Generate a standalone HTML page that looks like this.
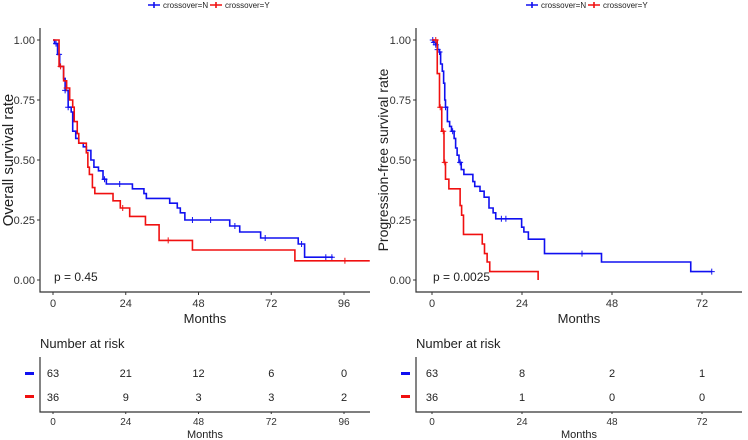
<!DOCTYPE html>
<html><head><meta charset="utf-8"><style>
body{margin:0;background:#fff;}
svg{display:block;font-family:"Liberation Sans",sans-serif;}
</style></head><body>
<svg id="c" width="748" height="440" viewBox="0 0 748 440"></svg>
<script>
// Left: overall survival
const osN_t=[0,0.5,1.5,2.2,3.5,4,5,6,6.5,7.5,8.5,10,11,12.5,13.5,15,16.5,17.6,26.2,30,30.8,38.5,41,42,43.5,58.3,61.6,68.5,80.9,83,92.4];
const osN_s=[1,0.985,0.94,0.89,0.84,0.79,0.72,0.70,0.62,0.59,0.57,0.555,0.54,0.50,0.47,0.455,0.42,0.40,0.38,0.36,0.34,0.32,0.30,0.28,0.25,0.225,0.20,0.175,0.15,0.095,0.095];
const osN_cens=[1,2,4,5,17,22,46,52,60,70,82,90,92];
const osY_t=[0,2,3.5,4.5,5.5,6.5,7,8,8.5,11,11.5,12,13,13.8,19.8,22.2,25.3,30.5,35,46,79.8,104.5];
const osY_s=[1,0.89,0.83,0.80,0.75,0.72,0.66,0.61,0.57,0.53,0.47,0.44,0.385,0.36,0.33,0.30,0.265,0.23,0.165,0.125,0.08,0.08];
const osY_cens=[2.5,4.5,23,38,96.3];
const osTicks=[0,24,48,72,96];
const osRiskN=[63,21,12,6,0];
const osRiskY=[36,9,3,3,2];
// Right: progression-free survival
const pfN_t=[0,0.5,1,1.5,2,2.3,2.75,3.1,3.4,3.6,4.1,4.7,5.2,5.9,6.3,6.7,7.2,7.8,8.5,10.9,11.4,12.8,13.9,15.2,16.3,17,23.9,24.5,25.7,30,45.2,69,74.6];
const pfN_s=[1,0.99,0.98,0.96,0.95,0.90,0.87,0.82,0.75,0.72,0.66,0.64,0.62,0.59,0.55,0.52,0.49,0.46,0.44,0.41,0.39,0.37,0.345,0.30,0.28,0.255,0.22,0.20,0.17,0.11,0.075,0.035,0.035];
const pfN_cens=[0.2,0.5,1,1.5,2,3.6,5.5,7.5,18.5,19.7,40,74.6];
const pfY_t=[0,1.4,2,2.6,3.2,3.6,4.5,7.5,7.9,8.4,13.4,14,14.7,15.4,28.3];
const pfY_s=[1,0.86,0.72,0.62,0.49,0.42,0.38,0.31,0.27,0.19,0.15,0.11,0.075,0.035,0];
const pfY_cens=[1,2.2,3,3.4];
const pfTicks=[0,24,48,72];
const pfRiskN=[63,8,2,1];
const pfRiskY=[36,1,0,0];

const NS="http://www.w3.org/2000/svg";
const svg=document.getElementById('c');
function mk(tag,attrs,parent,txt){const e=document.createElementNS(NS,tag);for(const k in attrs)e.setAttribute(k,attrs[k]);if(txt!==undefined)e.textContent=txt;(parent||svg).appendChild(e);return e;}
const BLUE="#1010f0",RED="#f01010";

function panel(o){
  const g=mk('g',{});
  
  
  const X=t=>o.x0+t*o.pxPerMonth, Y=s=>40+(1-s)*240;
  const ax=mk('path',{d:`M${o.axX} 28V292H${o.axEnd}`,stroke:'#333',fill:'none','stroke-width':1.2},g);
  
  [0,0.25,0.5,0.75,1].forEach(v=>{
    mk('line',{x1:o.axX-3,x2:o.axX,y1:Y(v),y2:Y(v),stroke:'#333'},g);
    const t=mk('text',{x:o.axX-5,y:Y(v)+4,'text-anchor':'end','font-size':11,fill:'#333'},g,v.toFixed(2));
    
  });
  o.ticks.forEach(v=>{
    mk('line',{x1:X(v),x2:X(v),y1:292,y2:295,stroke:'#333'},g);
    const t=mk('text',{x:X(v),y:307,'text-anchor':'middle','font-size':11,fill:'#333'},g,v);
    
  });
  const xt=mk('text',{x:(o.axX+o.axEnd)/2,y:323,'text-anchor':'middle','font-size':13,fill:'#222'},g,'Months');
  
  const yt=mk('text',{x:0,y:0,transform:`translate(${o.ytX},160) rotate(-90)`,'text-anchor':'middle','font-size':o.ytSize,fill:'#222'},g,o.ytitle);
  
  const p=mk('text',{x:X(0)+1,y:281,'font-size':12,fill:'#222'},g,o.p);
  
  function curve(ts,ss,cens,col,nm){
    let d=`M${X(ts[0])} ${Y(ss[0])}`;
    for(let i=1;i<ts.length;i++){d+=`H${X(ts[i])}V${Y(ss[i])}`;}
    const pth=mk('path',{d:d,stroke:col,fill:'none','stroke-width':1.6},g);
    
    cens.forEach(c=>{
      let s=ss[0];for(let i=0;i<ts.length;i++){if(ts[i]<=c)s=ss[i];}
      const m=mk('path',{d:`M${X(c)-3} ${Y(s)}h6M${X(c)} ${Y(s)-3}v6`,stroke:col,'stroke-width':1},g);
      
    });
  }
  curve(o.nT,o.nS,o.nC,BLUE,'curve-crossover-n');
  curve(o.yT,o.yS,o.yC,RED,'curve-crossover-y');
  const lg=mk('g',{},g);
  [[o.lx,BLUE,'crossover=N'],[o.lx+62,RED,'crossover=Y']].forEach(([lx,col,lab])=>{
    mk('path',{d:`M${lx} 5h12M${lx+6} 2v6`,stroke:col,'stroke-width':1.6},lg);
    const t=mk('text',{x:lx+15,y:8,'font-size':8,fill:'#222'},lg,lab);
    
  });
  const rt=mk('g',{},g);
  mk('text',{x:o.axX,y:348,'font-size':13,fill:'#222'},rt,'Number at risk');
  mk('path',{d:`M${o.axX} 357V412H${o.axEnd}`,stroke:'#333',fill:'none','stroke-width':1.2},rt);
  mk('rect',{x:o.axX-15,y:372,width:9,height:3,fill:BLUE},rt);
  mk('rect',{x:o.axX-15,y:395,width:9,height:3,fill:RED},rt);
  o.ticks.forEach((v,i)=>{
    mk('text',{x:X(v),y:377,'text-anchor':'middle','font-size':11,fill:'#222'},rt,o.rN[i]);
    mk('text',{x:X(v),y:401,'text-anchor':'middle','font-size':11,fill:'#222'},rt,o.rY[i]);
    mk('line',{x1:X(v),x2:X(v),y1:412,y2:414,stroke:'#333'},rt);
    mk('text',{x:X(v),y:425,'text-anchor':'middle','font-size':10,fill:'#333'},rt,v);
  });
  mk('text',{x:(o.axX+o.axEnd)/2,y:438,'text-anchor':'middle','font-size':11,fill:'#222'},rt,'Months');
}
panel({name:'os-panel',axX:40,axEnd:370,x0:53,pxPerMonth:291/96,ticks:osTicks,ytitle:'Overall survival rate',ytSize:15,ytX:13,p:'p = 0.45',
  nT:osN_t,nS:osN_s,nC:osN_cens,yT:osY_t,yS:osY_s,yC:osY_cens,lx:148,rN:osRiskN,rY:osRiskY});
panel({name:'pfs-panel',axX:416,axEnd:742,x0:432,pxPerMonth:270/72,ticks:pfTicks,ytitle:'Progression-free survival rate',ytSize:14,ytX:388,p:'p = 0.0025',
  nT:pfN_t,nS:pfN_s,nC:pfN_cens,yT:pfY_t,yS:pfY_s,yC:pfY_cens,lx:526,rN:pfRiskN,rY:pfRiskY});
</script>
</body></html>
